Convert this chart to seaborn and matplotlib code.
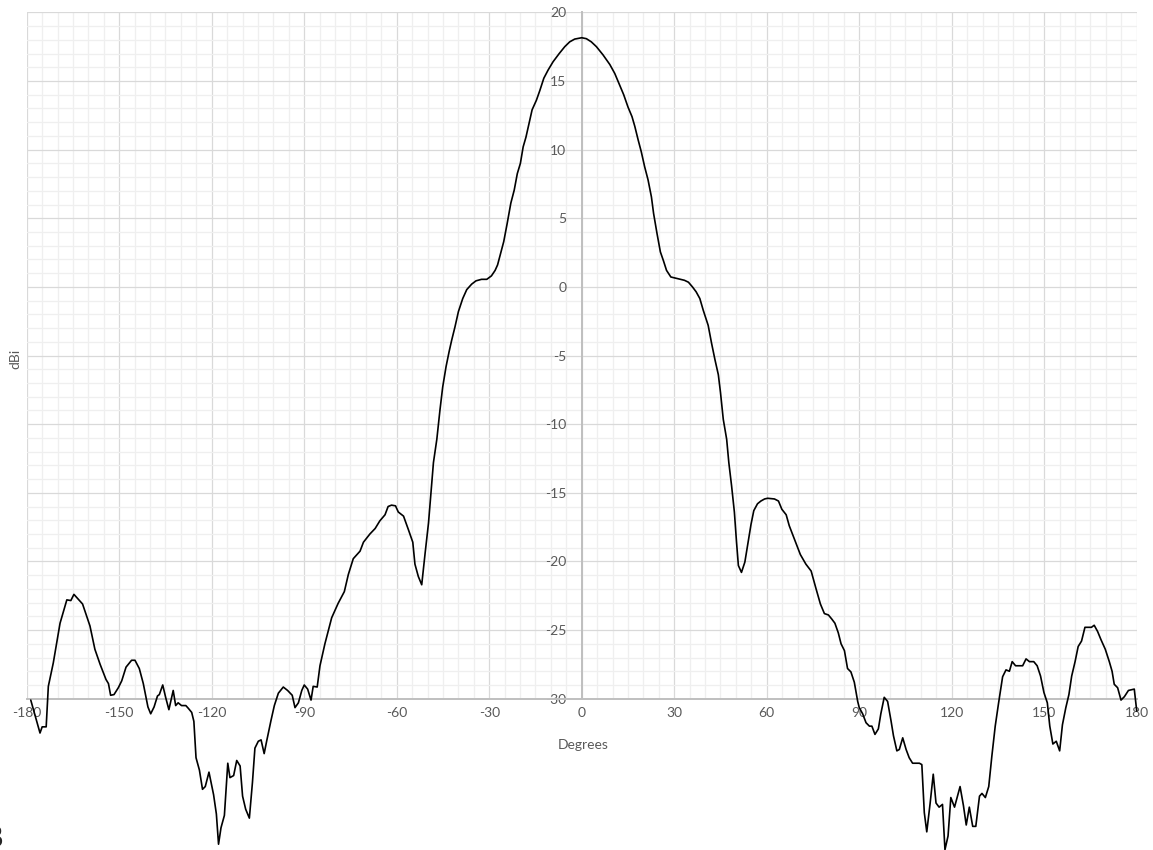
import matplotlib
matplotlib.use("Agg")
import matplotlib.pyplot as plt
import seaborn as sns
from matplotlib.ticker import MultipleLocator

# antenna pattern values (degrees / dBi)
degrees = [
    -178.7, -175.7, -175.0, -173.7, -173.0, -171.4, -169.2, -167.0, -165.7, -164.7,
    -163.3, -161.9, -159.5, -157.9, -156.2, -154.3, -153.5, -152.8, -151.7, -150.3,
    -149.2, -147.8, -146.0, -144.9, -143.5, -142.2, -140.7, -139.8, -138.7, -137.6,
    -137.0, -135.9, -134.9, -133.9, -132.5, -131.7, -130.9, -129.8, -128.4, -127.6,
    -126.5, -125.8, -125.1, -124.0, -123.0, -122.1, -120.9, -119.4, -118.5, -117.8,
    -117.0, -115.9, -114.8, -114.1, -112.9, -111.9, -110.8, -110.0, -109.0, -107.8,
    -106.8, -106.0, -104.9, -104.0, -103.0, -102.2, -100.8, -99.7, -98.4, -96.8,
    -95.4, -93.9, -93.0, -91.9, -90.8, -90.0, -88.9, -87.8, -87.1, -85.8,
    -84.9, -83.3, -81.1, -79.0, -77.0, -75.7, -74.1, -71.9, -70.8, -68.7,
    -67.0, -65.5, -63.8, -62.8, -61.7, -60.4, -59.5, -57.8, -56.2, -54.8,
    -54.1, -53.0, -51.9, -50.8, -49.7, -48.7, -48.1, -47.0, -46.0, -45.1,
    -44.0, -43.0, -42.2, -41.1, -40.0, -38.6, -37.3, -35.7, -34.3, -32.5,
    -30.8, -29.3, -28.1, -27.3, -26.6, -25.3, -24.2, -23.0, -21.9, -20.9,
    -19.9, -19.0, -18.1, -17.2, -16.1, -14.7, -13.6, -12.3, -10.9, -9.3,
    -7.3, -5.5, -3.9, -2.3, 0.0, 1.5, 3.1, 4.75, 6.9, 9.1,
    10.7, 12.1, 13.6, 15.0, 16.3, 17.2, 18.3, 19.3, 20.4, 21.5,
    22.6, 23.3, 24.4, 25.5, 26.5, 27.5, 28.9, 30.2, 31.9, 33.3,
    34.6, 35.9, 37.1, 38.3, 39.4, 41.0, 42.1, 43.2, 44.3, 45.0,
    45.9, 47.0, 47.7, 48.6, 49.5, 50.2, 50.8, 51.8, 52.9, 53.8,
    54.9, 55.8, 57.0, 58.1, 59.3, 60.3, 62.5, 63.8, 64.9, 66.3,
    67.3, 69.0, 70.9, 72.7, 74.4, 76.0, 77.4, 78.7, 80.0, 81.1,
    82.1, 83.2, 84.1, 85.2, 86.2, 87.3, 88.4, 89.5, 90.0, 91.1,
    92.2, 93.3, 94.1, 95.1, 96.2, 97.0, 98.1, 99.2, 100.3, 101.1,
    102.2, 103.0, 104.1, 105.2, 106.2, 107.3, 108.4, 109.5, 110.3, 111.1,
    111.9, 113.0, 114.0, 114.9, 115.9, 117.0, 117.8, 118.8, 119.7, 120.9,
    122.7, 123.8, 124.7, 125.7, 126.8, 127.8, 129.0, 129.8, 130.9, 132.0,
    133.0, 134.1, 135.2, 136.5, 137.6, 138.7, 139.6, 140.7, 141.7, 143.0,
    144.1, 145.2, 146.6, 147.7, 148.8, 149.9, 151.0, 151.8, 152.8, 153.9,
    155.0, 155.9, 157.0, 158.0, 158.9, 160.0, 161.0, 162.1, 163.2, 165.3,
    166.2, 167.3, 168.4, 169.8, 171.1, 172.0, 172.7, 173.8, 174.9, 176.0,
    177.3, 179.2, 180.0,
]
gain_dbi = [
    -30.1, -32.5, -32.05, -32.05, -29.1, -27.4, -24.5, -22.8, -22.85, -22.4,
    -22.75, -23.1, -24.7, -26.4, -27.5, -28.6, -28.9, -29.75, -29.7, -29.2,
    -28.7, -27.7, -27.2, -27.2, -27.8, -28.9, -30.6, -31.1, -30.6, -29.8,
    -29.7, -29.0, -29.95, -30.8, -29.4, -30.5, -30.3, -30.5, -30.5, -30.7,
    -31.0, -31.65, -34.3, -35.2, -36.6, -36.4, -35.35, -37.0, -38.4, -40.6,
    -39.4, -38.5, -34.7, -35.75, -35.6, -34.5, -34.9, -37.1, -38.05, -38.7,
    -36.1, -33.6, -33.1, -33.0, -34.0, -33.1, -31.6, -30.5, -29.6, -29.15,
    -29.4, -29.75, -30.65, -30.3, -29.4, -29.0, -29.3, -30.1, -29.1, -29.15,
    -27.6, -26.0, -24.1, -23.05, -22.2, -20.95, -19.8, -19.25, -18.6, -18.0,
    -17.6, -17.05, -16.6, -16.0, -15.9, -15.95, -16.4, -16.7, -17.7, -18.6,
    -20.2, -21.1, -21.7, -19.4, -17.2, -14.5, -12.8, -11.1, -9.0, -7.3,
    -5.8, -4.7, -3.9, -2.9, -1.8, -0.85, -0.2, 0.2, 0.44, 0.55,
    0.55, 0.8, 1.2, 1.6, 2.2, 3.3, 4.6, 6.1, 7.05, 8.25,
    9.0, 10.2, 10.9, 11.8, 12.9, 13.6, 14.3, 15.2, 15.8, 16.4,
    17.0, 17.5, 17.85, 18.05, 18.15, 18.08, 17.85, 17.5, 16.9, 16.2,
    15.55, 14.8, 14.0, 13.1, 12.4, 11.7, 10.7, 9.85, 8.75, 7.8,
    6.55, 5.35, 3.9, 2.55, 1.9, 1.2, 0.72, 0.65, 0.56, 0.48,
    0.34, 0.0, -0.36, -0.85, -1.7, -2.8, -4.1, -5.3, -6.4, -7.7,
    -9.65, -11.1, -12.8, -14.5, -16.4, -18.6, -20.3, -20.8, -20.05, -18.8,
    -17.3, -16.3, -15.8, -15.6, -15.45, -15.4, -15.45, -15.6, -16.2, -16.6,
    -17.4, -18.4, -19.5, -20.2, -20.7, -22.0, -23.1, -23.8, -23.9, -24.2,
    -24.5, -25.2, -26.0, -26.5, -27.8, -28.05, -28.8, -30.2, -30.65, -31.1,
    -31.75, -32.0, -32.0, -32.6, -32.2, -31.1, -29.9, -30.2, -31.6, -32.7,
    -33.8, -33.7, -32.85, -33.7, -34.3, -34.7, -34.7, -34.7, -34.8, -38.3,
    -39.7, -37.6, -35.5, -37.6, -37.9, -37.7, -41.0, -40.0, -37.2, -37.9,
    -36.4, -37.8, -39.2, -37.9, -39.3, -39.3, -37.1, -36.9, -37.2, -36.4,
    -34.2, -32.0, -30.3, -28.4, -27.9, -28.0, -27.3, -27.6, -27.6, -27.6,
    -27.1, -27.3, -27.3, -27.6, -28.35, -29.55, -30.3, -32.0, -33.3, -33.1,
    -33.8, -31.9, -30.65, -29.7, -28.35, -27.3, -26.2, -25.8, -24.8, -24.8,
    -24.65, -25.1, -25.7, -26.4, -27.3, -28.0, -28.95, -29.2, -30.1, -29.85,
    -29.4, -29.3, -30.9,
]

x_ticks = [-180, -150, -120, -90, -60, -30, 0, 30, 60, 90, 120, 150, 180]
y_ticks = [-30, -25, -20, -15, -10, -5, 0, 5, 10, 15, 20]

sns.set_style("white")
plt.rcParams['font.family'] = ['Lato', 'DejaVu Sans']
plt.rcParams['axes.unicode_minus'] = False

fig = plt.figure(figsize=(11.53, 8.5), dpi=100)
ax = fig.add_axes([0.0232, 0.178, 0.9627, 0.8075])

sns.lineplot(x=degrees, y=gain_dbi, sort=False, estimator=None,
             color='black', linewidth=1.2, ax=ax)
for ln in ax.lines:
    ln.set_clip_on(False)

ax.set_xlim(-180, 180)
ax.set_ylim(-30, 20)
ax.set_xticks(x_ticks)
ax.set_yticks(y_ticks)
ax.xaxis.set_minor_locator(MultipleLocator(5))
ax.yaxis.set_minor_locator(MultipleLocator(1))

# excel-ish gridlines
ax.grid(which='major', color='#d9d9d9', linewidth=0.9)
ax.grid(which='minor', color='#efefef', linewidth=0.9)
ax.set_axisbelow(True)

# axes cross at x=0, horizontal axis at the bottom
for s in ['top', 'right']:
    ax.spines[s].set_visible(False)
ax.spines['left'].set_position(('data', 0))
for s in ['left', 'bottom']:
    ax.spines[s].set_color('#bfbfbf')
    ax.spines[s].set_linewidth(1.4)
    ax.spines[s].set_zorder(1.5)

ax.tick_params(axis='y', which='both', direction='inout', length=6, width=1,
               color='#bfbfbf', labelcolor='#595959', labelsize=10, pad=8)
ax.tick_params(axis='x', which='both', direction='in', length=4, width=1,
               color='#bfbfbf', labelcolor='#595959', labelsize=10, pad=6)

ax.set_xlabel('')
ax.set_ylabel('')
fig.text(0.5056, 0.1235, 'Degrees', ha='center', va='center',
         color='#595959', fontsize=10)
fig.text(0.0135, 0.578, 'dBi', ha='center', va='center', rotation=90,
         color='#595959', fontsize=10)
fig.text(-0.0105, 0.003, '3', ha='left', va='baseline', fontsize=22,
         fontweight='bold', family=['Liberation Serif', 'DejaVu Serif'])

fig.savefig('out.png', dpi=100)
